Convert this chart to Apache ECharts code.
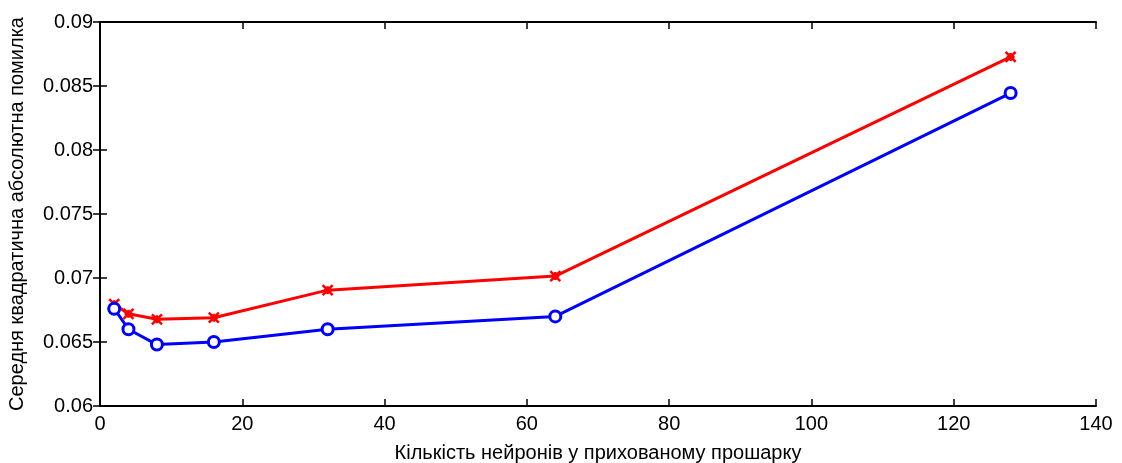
<!DOCTYPE html>
<html><head><meta charset="utf-8">
<script src="https://cdn.jsdelivr.net/npm/echarts@6/dist/echarts.min.js"></script>
<style>html,body{margin:0;padding:0;background:#fff}#c{width:1122px;height:463px}</style>
</head><body><div id="c"></div>
<script>
var neurons = [2, 4, 8, 16, 32, 64, 128];
var redValues = [0.06795, 0.0672, 0.06677, 0.0669, 0.06905, 0.07015, 0.08727];
var blueValues = [0.0676, 0.0660, 0.0648, 0.0650, 0.0660, 0.0670, 0.08445];
var xLabel = 'Кількість нейронів у прихованому прошарку';
var yLabel = 'Середня квадратична абсолютна помилка';

function pairs(xs, ys){ return xs.map(function(x,i){return [x, ys[i]];}); }
var font = 'Liberation Sans, Arial, sans-serif';
var chart = echarts.init(document.getElementById('c'));
var axisLineS = {show:true, lineStyle:{color:'#000', width:2}};
var tickS = {show:true, inside:true, length:7, lineStyle:{color:'#000', width:1.5}};
chart.setOption({
  animation:false,
  grid:{left:100, right:26, top:22, bottom:57, outerBoundsMode:'none', containLabel:false},
  xAxis:[{
    type:'value', min:0, max:140, interval:20,
    axisLine:axisLineS, axisTick:tickS, splitLine:{show:false},
    axisLabel:{color:'#000', fontFamily:font, fontSize:20, margin:8},
    name:xLabel, nameLocation:'middle', nameGap:37,
    nameTextStyle:{color:'#000', fontFamily:font, fontSize:20}
  },{
    type:'value', position:'top', min:0, max:140, interval:20,
    axisLine:axisLineS, axisTick:tickS, axisLabel:{show:false}, splitLine:{show:false}
  }],
  yAxis:[{
    type:'value', min:0.06, max:0.09, interval:0.005,
    axisLine:axisLineS, axisTick:tickS, splitLine:{show:false},
    axisLabel:{color:'#000', fontFamily:font, fontSize:20, margin:7,
      formatter:function(v){return String(+v.toFixed(3));}},
    name:yLabel, nameLocation:'middle', nameGap:73,
    nameTextStyle:{color:'#000', fontFamily:font, fontSize:20}
  },{
    type:'value', position:'right', min:0.06, max:0.09, interval:0.005,
    axisLine:axisLineS, axisTick:tickS, axisLabel:{show:false}, splitLine:{show:false}
  }],
  series:[{
    type:'line', data:pairs(neurons, redValues),
    lineStyle:{color:'#ff0000', width:3},
    itemStyle:{color:'#ff0000', borderColor:'#ff0000', borderWidth:2.5},
    symbol:'path://M0,0L10,10M10,0L0,10M5,1L5,9M1,5L9,5', symbolSize:10, showSymbol:true
  },{
    type:'line', data:pairs(neurons, blueValues),
    lineStyle:{color:'#0000ff', width:3},
    itemStyle:{color:'#fff', borderColor:'#0000ff', borderWidth:3},
    symbol:'circle', symbolSize:11, showSymbol:true
  }]
});
</script></body></html>
